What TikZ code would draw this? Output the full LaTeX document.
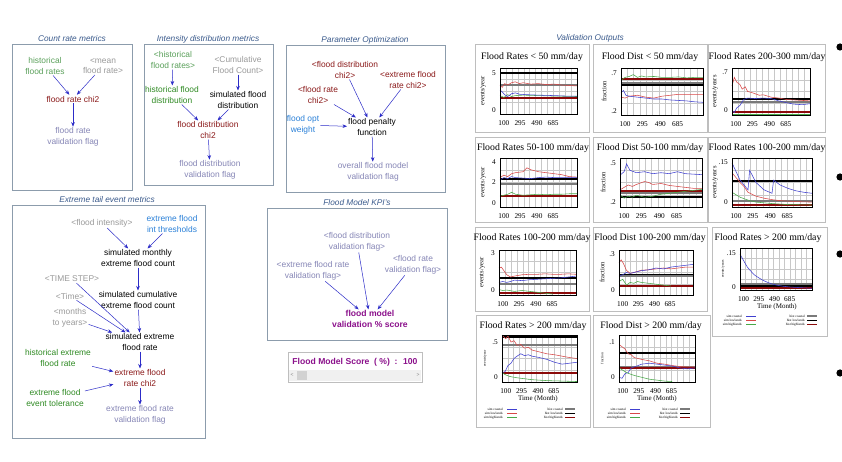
\documentclass[tikz,border=0pt]{standalone}
\usepackage{fontspec}
\setmainfont{Liberation Sans}
\newfontfamily\chartfont{Liberation Serif}
\usetikzlibrary{arrows.meta}
\definecolor{framecol}{HTML}{8C9CAC}
\definecolor{titlecol}{HTML}{3A5A8C}
\definecolor{histgreen}{HTML}{2E8A22}
\definecolor{lightgreen}{HTML}{5AA05A}
\definecolor{shadowgray}{HTML}{9A9A9A}
\definecolor{chired}{HTML}{8B1A1A}
\definecolor{flagblue}{HTML}{8686B6}
\definecolor{constblue}{HTML}{2A80D8}
\definecolor{scorepurple}{HTML}{8B108B}
\definecolor{linkblue}{HTML}{2C2CC8}
\definecolor{simblue}{HTML}{4040D0}
\definecolor{simred}{HTML}{D84848}
\definecolor{simgreen}{HTML}{48A848}
\definecolor{histgray}{HTML}{7A7A7A}
\definecolor{histred}{HTML}{8B0A0A}
\definecolor{gridcol}{HTML}{C8C8C8}
\definecolor{panelcol}{HTML}{BEBEBE}
\tikzset{grp/.style = {draw=framecol, line width=.6pt},
         grptitle/.style = {text=titlecol, font=\fontsize{8.3}{10}\selectfont\itshape, inner sep=1pt},
         var/.style = {align=center, inner sep=1pt, font=\fontsize{8.4}{10.5}\selectfont},
         aux/.style = {var, text=black},
         ghost/.style = {var, text=shadowgray},
         histv/.style = {var, text=histgreen},
         histl/.style = {var, text=lightgreen},
         chi/.style = {var, text=chired},
         flag/.style = {var, text=flagblue},
         cst/.style = {var, text=constblue},
         score/.style = {var, text=scorepurple, font=\fontsize{8.6}{10.5}\selectfont\bfseries},
         lk/.style = {->, draw=linkblue, line width=.5pt},
         chartbox/.style = {draw=panelcol, line width=.7pt},
         ctitle/.style = {font=\chartfont\fontsize{9.8}{11}\selectfont, inner sep=0pt},
         tick/.style = {font=\chartfont\fontsize{7.3}{8}\selectfont, inner sep=1pt},
         ylab/.style = {font=\chartfont\fontsize{6.5}{7}\selectfont, inner sep=0pt, rotate=90},
         ylabtiny/.style = {font=\chartfont\fontsize{3.6}{4}\selectfont, inner sep=0pt, rotate=90},
         xlab/.style = {font=\chartfont\fontsize{7}{8}\selectfont, inner sep=0pt},
         gridln/.style = {draw=gridcol, line width=.4pt},
         plotrim/.style = {draw=black, line width=.7pt},
         simco/.style = {draw=simblue, line width=.55pt},
         simlo/.style = {draw=simred, line width=.55pt},
         simhi/.style = {draw=simgreen, line width=.55pt},
         histco/.style = {draw=histgray, line width=2pt},
         histlo/.style = {draw=black, line width=2pt},
         histhi/.style = {draw=histred, line width=2pt},
         legtxt/.style = {font=\chartfont\fontsize{3.4}{4}\selectfont, inner sep=0pt, anchor=east}}

% plot area in unit coordinates
\newcommand\plotgrid{%
  \fill[white] (0,0) rectangle (1,1);
  \foreach \k in {1,...,12} \draw[gridln] (\k/13,0) -- (\k/13,1);
  \foreach \k in {1,2,3} \draw[gridln] (0,\k/4) -- (1,\k/4);}
% id, top label, top value, bottom label, bottom value, y label, y label style
\newcommand\chartaxes[7]{%
  \draw[plotrim] (0,0) rectangle (1,1);
  \foreach \t/\u [count=\i] in {100/.05,295/.26,490/.48,685/.69}
    \node[tick, anchor=north, yshift=-5pt] (#1x\i) at (\u,0) {\t};
  \node[tick, anchor=east, xshift=-3pt] (#1ya) at (0,#3) {#2};
  \node[tick, anchor=east, xshift=-3pt] (#1yb) at (0,#5) {#4};
  \node[xshift=-17pt, #7] (#1yl) at (0,.5) {#6};}
% id, left text east, right text east, first row
\newcommand\chartlegend[4]{%
  \node[legtxt] (#1sl1) at (#2,#4) {sim coastal};
  \node[legtxt] (#1sl2) at (#2,#4+4.2) {sim lowlands};
  \node[legtxt] (#1sl3) at (#2,#4+8.4) {sim highlands};
  \draw[simco] (#2+4,#4) -- (#2+14,#4);
  \draw[simlo] (#2+4,#4+4.2) -- (#2+14,#4+4.2);
  \draw[simhi] (#2+4,#4+8.4) -- (#2+14,#4+8.4);
  \node[legtxt] (#1hl1) at (#3,#4) {hist coastal};
  \node[legtxt] (#1hl2) at (#3,#4+4.2) {hist lowlands};
  \node[legtxt] (#1hl3) at (#3,#4+8.4) {hist highlands};
  \draw[histco, line width=1.3pt] (#3+2,#4) -- (#3+12,#4);
  \draw[histlo, line width=1.3pt] (#3+2,#4+4.2) -- (#3+12,#4+4.2);
  \draw[histhi, line width=1.3pt] (#3+2,#4+8.4) -- (#3+12,#4+8.4);}

\begin{document}
\begin{tikzpicture}[x=1pt, y=-1pt, >={Stealth[length=4.5pt, width=3.6pt]}]
  \path[fill=white] (0,0) rectangle (842,462);
  \useasboundingbox (0,0) rectangle (842,462);

  % Count rate metrics
  \node[grptitle] (tcr) at (72,39) {Count rate metrics};
  \draw[grp] (12,44) rectangle (132,190);
  \node[histl] (hfr) at (45,66) {historical\\flood rates};
  \node[ghost] (mfr) at (103,66) {<mean\\flood rate>};
  \node[chi]   (frc) at (73,99) {flood rate chi2};
  \node[flag]  (frf) at (73,137) {flood rate\\validation flag};
  \draw[lk] (hfr) -- (frc);
  \draw[lk] (mfr) -- (frc);
  \draw[lk] (frc) -- (frf);

  % Intensity distribution metrics
  \node[grptitle] (tid) at (208,39) {Intensity distribution metrics};
  \draw[grp] (144,44) rectangle (273,185);
  \node[histl] (hfr2) at (173,60) {<historical\\flood rates>};
  \node[ghost] (cfc) at (238,65) {<Cumulative\\Flood Count>};
  \node[histv] (hfd) at (172,95) {historical flood\\distribution};
  \node[aux]   (sfd) at (238,100) {simulated flood\\distribution};
  \node[chi]   (fdc) at (208,130) {flood distribution\\chi2};
  \node[flag]  (fdf) at (210,170) {flood distribution\\validation flag};
  \draw[lk] (hfr2) -- (hfd);
  \draw[lk] (cfc) -- (sfd);
  \draw[lk] (hfd) -- (fdc);
  \draw[lk] (sfd) -- (fdc);
  \draw[lk] (fdc) -- (fdf);

  % Parameter Optimization
  \node[grptitle] (tpo) at (365,40) {Parameter Optimization};
  \draw[grp] (286,45) rectangle (445,192);
  \node[chi]  (pdc) at (345,70) {<flood distribution\\chi2>};
  \node[chi]  (pec) at (408,80) {<extreme flood\\rate chi2>};
  \node[chi]  (prc) at (318,95) {<flood rate\\chi2>};
  \node[cst]  (fow) at (303,125) {flood opt\\weight};
  \node[aux]  (fpf) at (372,127) {flood penalty\\function};
  \node[flag] (ofv) at (373,172) {overall flood model\\validation flag};
  \draw[lk] (pdc) -- (fpf);
  \draw[lk] (pec) -- (fpf);
  \draw[lk] (prc) -- (fpf);
  \draw[lk] (fow) -- (fpf);
  \draw[lk] (fpf) -- (ofv);

  % Extreme tail event metrics
  \node[grptitle] (tet) at (107,200) {Extreme tail event metrics};
  \draw[grp] (12,205) rectangle (205,438);
  \node[ghost] (fin) at (102,223) {<flood intensity>};
  \node[cst]   (eft) at (172,224) {extreme flood\\int thresholds};
  \node[aux]   (smc) at (138,258) {simulated monthly\\extreme flood count};
  \node[ghost] (tst) at (72,279) {<TIME STEP>};
  \node[ghost] (tim) at (70,296) {<Time>};
  \node[ghost] (mty) at (70,318) {<months\\to years>};
  \node[aux]   (scc) at (138,300) {simulated cumulative\\extreme flood count};
  \node[aux]   (ser) at (140,342) {simulated extreme\\flood rate};
  \node[histv] (her) at (58,358) {historical extreme\\flood rate};
  \node[chi]   (erc) at (140,378) {extreme flood\\rate chi2};
  \node[histv] (eet) at (55,398) {extreme flood\\event tolerance};
  \node[flag]  (erf) at (140,415) {extreme flood rate\\validation flag};
  \draw[lk] (fin) -- (smc);
  \draw[lk] (eft) -- (smc);
  \draw[lk] (smc) -- (scc);
  \draw[lk] (scc) -- (ser);
  \draw[lk] (tst) -- (ser);
  \draw[lk] (tim) -- (ser);
  \draw[lk] (mty) -- (ser);
  \draw[lk] (ser) -- (erc);
  \draw[lk] (her) -- (erc);
  \draw[lk] (eet) -- (erc);
  \draw[lk] (erc) -- (erf);

  % Flood Model KPI's
  \node[grptitle] (tkp) at (357,203) {Flood Model KPI's};
  \draw[grp] (267,208) rectangle (447,340);
  \node[flag]  (kdf) at (357,242) {<flood distribution\\validation flag>};
  \node[flag]  (kef) at (313,271) {<extreme flood rate\\validation flag>};
  \node[flag]  (krf) at (413,265) {<flood rate\\validation flag>};
  \node[score] (vsc) at (370,319) {flood model\\validation \% score};
  \draw[lk] (kdf) -- (vsc);
  \draw[lk] (kef) -- (vsc);
  \draw[lk] (krf) -- (vsc);

  % score readout
  \draw[draw=panelcol, line width=.6pt] (288,352) rectangle (422,382);
  \node[score, font=\fontsize{8.6}{10}\selectfont\bfseries] (fms) at (355,362) {Flood Model Score~ (~\%)~ :~ 100};
  \fill[gray!12] (289,370) rectangle (421,381);
  \fill[gray!35] (297,371) rectangle (307,380);
  \node[font=\fontsize{5}{6}\selectfont, text=gray] (sbl) at (292,375.5) {<};
  \node[font=\fontsize{5}{6}\selectfont, text=gray] (sbr) at (418,375.5) {>};

  % Validation Outputs
  \node[grptitle] (tvo) at (590,38) {Validation Outputs};

  % Flood Rates < 50 mm/day
  \draw[chartbox] (475,44) rectangle (589,132);
  \node[ctitle] (c1t) at (532,57) {Flood Rates < 50 mm/day};
  \begin{scope}[shift={(500,114)}, x=77pt, y=46pt]
    \plotgrid
    \draw[histlo] (0,.89) -- (1,.89);
    \draw[histco] (0,.62) -- (1,.62);
    \draw[histhi] (0,.34) -- (1,.34);
    \draw[simlo] plot coordinates {(0,.62) (.03,.58) (.06,.66) (.1,.63) (.15,.68) (.2,.7) (.25,.66) (.3,.68) (.4,.65) (.5,.66) (.6,.64) (.7,.65) (.8,.63) (.9,.62) (1,.61)};
    \draw[simhi] plot coordinates {(0,.40) (.05,.36) (.1,.42) (.15,.38) (.2,.40) (.3,.41) (.5,.40) (.7,.39) (1,.38)};
    \draw[simco] plot coordinates {(0,.52) (.03,.48) (.06,.42) (.1,.38) (.15,.44) (.2,.46) (.25,.43) (.35,.42) (.5,.41) (.7,.40) (.85,.39) (1,.39)};
    \chartaxes{c1}{5}{.89}{0}{.09}{events/year}{ylab}
  \end{scope}

  % Flood Dist < 50 mm/day
  \draw[chartbox] (593,44) rectangle (707,132);
  \node[ctitle] (c2t) at (650,57) {Flood Dist < 50 mm/day};
  \begin{scope}[shift={(621,115)}, x=82pt, y=47pt]
    \plotgrid
    \draw[histco] (0,.68) -- (1,.68);
    \draw[histlo] (0,.63) -- (1,.63);
    \draw[histhi] (0,.77) -- (1,.77);
    \draw[simhi] plot coordinates {(0,.74) (.05,.8) (.1,.82) (.15,.86) (.2,.8) (.25,.83) (.3,.81) (.4,.82) (.5,.8) (.6,.8) (.7,.81) (.8,.79) (.9,.8) (1,.8)};
    \draw[simlo] plot coordinates {(0,.38) (.05,.36) (.1,.40) (.2,.42) (.3,.38) (.4,.36) (.5,.40) (.6,.42) (.7,.44) (.8,.44) (.9,.44) (1,.44)};
    \draw[simco] plot coordinates {(0,.48) (.03,.52) (.06,.42) (.1,.40) (.2,.38) (.3,.36) (.4,.34) (.5,.34) (.6,.32) (.7,.31) (.8,.3) (.9,.28) (1,.27)};
    \chartaxes{c2}{.7}{.89}{.2}{.09}{fraction}{ylab}
  \end{scope}

  % Flood Rates 200-300 mm/day
  \draw[chartbox] (708,44) rectangle (825,132);
  \node[ctitle] (c3t) at (767,57) {Flood Rates 200-300 mm/day};
  \begin{scope}[shift={(732,115)}, x=78pt, y=47pt]
    \plotgrid
    \draw[histlo] (0,.34) -- (1,.34);
    \draw[histco] (0,.28) -- (1,.28);
    \draw[histhi] (0,.06) -- (1,.06);
    \draw[simhi] (0,.02) -- (1,.02);
    \draw[simlo] plot coordinates {(0,.62) (.03,.8) (.06,.7) (.1,.65) (.13,.55) (.17,.6) (.2,.5) (.25,.48) (.3,.45) (.35,.42) (.4,.43) (.5,.38) (.6,.36) (.7,.33) (.8,.32) (.9,.31) (1,.3)};
    \draw[simco] plot coordinates {(0,.1) (.03,.05) (.06,.15) (.1,.2) (.15,.33) (.2,.36) (.3,.35) (.4,.36) (.5,.35) (.6,.3) (.7,.26) (.8,.23) (.9,.22) (1,.24)};
    \chartaxes{c3}{.7}{.91}{0}{.11}{events/years}{ylab}
  \end{scope}

  % Flood Rates 50-100 mm/day
  \draw[chartbox] (475,137) rectangle (589,222);
  \node[ctitle] (c4t) at (533,148) {Flood Rates 50-100 mm/day};
  \begin{scope}[shift={(500,207)}, x=77pt, y=49pt]
    \plotgrid
    \draw[histlo] (0,.57) -- (1,.57);
    \draw[histco] (0,.47) -- (1,.47);
    \draw[histhi] (0,.22) -- (1,.22);
    \draw[simlo] plot coordinates {(0,.6) (.05,.65) (.1,.62) (.15,.68) (.2,.7) (.3,.72) (.35,.8) (.4,.76) (.5,.72) (.6,.7) (.7,.68) (.8,.66) (.9,.62) (1,.61)};
    \draw[simco] plot coordinates {(0,.55) (.05,.6) (.1,.58) (.15,.62) (.2,.6) (.3,.59) (.4,.58) (.5,.6) (.6,.61) (.7,.6) (.8,.6) (.9,.6) (1,.6)};
    \draw[simhi] plot coordinates {(0,.22) (.05,.24) (.1,.26) (.15,.3) (.2,.26) (.3,.24) (.4,.25) (.5,.26) (.6,.25) (.7,.26) (.8,.26) (.9,.27) (1,.27)};
    \chartaxes{c4}{4}{.92}{0}{.08}{events/year}{ylab}
    \node[tick, anchor=east, xshift=-3pt] (c4ym) at (0,.51) {2};
  \end{scope}

  % Flood Dist 50-100 mm/day
  \draw[chartbox] (593,137) rectangle (707,222);
  \node[ctitle] (c5t) at (650,148) {Flood Dist 50-100 mm/day};
  \begin{scope}[shift={(620,207)}, x=82pt, y=49pt]
    \plotgrid
    \draw[histhi] (0,.33) -- (1,.33);
    \draw[histco] (0,.28) -- (1,.28);
    \draw[histlo] (0,.2) -- (1,.2);
    \draw[simco] plot coordinates {(0,.65) (.05,.72) (.08,.88) (.12,.75) (.2,.7) (.3,.72) (.4,.68) (.5,.7) (.6,.68) (.7,.72) (.8,.68) (.9,.67) (1,.66)};
    \draw[simlo] plot coordinates {(0,.35) (.05,.4) (.1,.45) (.15,.42) (.2,.46) (.3,.52) (.35,.5) (.4,.46) (.5,.48) (.6,.44) (.7,.42) (.8,.4) (.9,.38) (1,.38)};
    \draw[simhi] plot coordinates {(0,.25) (.05,.18) (.1,.22) (.15,.2) (.2,.24) (.3,.2) (.4,.22) (.5,.26) (.6,.28) (.7,.3) (.8,.32) (.9,.34) (1,.36)};
    \chartaxes{c5}{.5}{.9}{.2}{.1}{fraction}{ylab}
  \end{scope}

  % Flood Rates 100-200 mm/day (third column)
  \draw[chartbox] (708,137) rectangle (825,222);
  \node[ctitle] (c6t) at (767,148) {Flood Rates 100-200 mm/day};
  \begin{scope}[shift={(732,207)}, x=80pt, y=49pt]
    \plotgrid
    \draw[histlo] (0,.53) -- (1,.53);
    \draw[histco] (0,.12) -- (1,.12);
    \draw[histhi] (0,.05) -- (1,.05);
    \draw[simlo] plot coordinates {(0,.7) (.05,.6) (.1,.5) (.15,.42) (.2,.3) (.3,.22) (.4,.18) (.5,.15) (.6,.13) (.7,.12) (.8,.11) (1,.1)};
    \draw[simco] plot coordinates {(0,.9) (.1,.55) (.2,.35) (.22,.75) (.3,.5) (.4,.35) (.5,.28) (.52,.55) (.6,.45) (.7,.38) (.8,.33) (.9,.3) (1,.28)};
    \draw[simhi] plot coordinates {(0,.3) (.1,.2) (.2,.14) (.3,.1) (.5,.07) (.7,.05) (1,.04)};
    \chartaxes{c6}{.15}{.92}{0}{.1}{events/years}{ylab}
  \end{scope}

  % Flood Rates 100-200 mm/day
  \draw[chartbox] (475,227) rectangle (589,311);
  \node[ctitle] (c7t) at (532,238) {Flood Rates 100-200 mm/day};
  \begin{scope}[shift={(499,295)}, x=77pt, y=45pt]
    \plotgrid
    \draw[histlo] (0,.38) -- (1,.38);
    \draw[histco] (0,.25) -- (1,.25);
    \draw[histhi] (0,.05) -- (1,.05);
    \draw[simlo] plot coordinates {(0,.6) (.03,.62) (.06,.55) (.1,.45) (.15,.4) (.2,.42) (.3,.45) (.4,.46) (.5,.46) (.6,.47) (.7,.46) (.8,.46) (.9,.47) (1,.46)};
    \draw[simco] plot coordinates {(0,.28) (.05,.3) (.1,.28) (.15,.3) (.2,.33) (.3,.32) (.4,.34) (.5,.35) (.6,.36) (.7,.37) (.8,.38) (.9,.4) (1,.42)};
    \draw[simhi] plot coordinates {(0,.12) (.05,.1) (.1,.11) (.2,.08) (.3,.1) (.4,.08) (.5,.06) (.6,.04) (.7,.02)};
    \chartaxes{c7}{3}{.93}{0}{.11}{events/year}{ylab}
  \end{scope}

  % Flood Dist 100-200 mm/day
  \draw[chartbox] (593,227) rectangle (707,311);
  \node[ctitle] (c8t) at (650,238) {Flood Dist 100-200 mm/day};
  \begin{scope}[shift={(619,295)}, x=74pt, y=45pt]
    \plotgrid
    \draw[histco] (0,.42) -- (1,.42);
    \draw[histlo, line width=.8pt] (0,.46) -- (1,.46);
    \draw[histhi] (0,.2) -- (1,.2);
    \draw[simlo] plot coordinates {(0,.72) (.03,.78) (.06,.7) (.1,.55) (.15,.48) (.2,.5) (.3,.55) (.4,.56) (.5,.58) (.6,.6) (.7,.58) (.8,.6) (.9,.62) (1,.62)};
    \draw[simco] plot coordinates {(0,.42) (.05,.45) (.1,.5) (.15,.48) (.2,.5) (.3,.54) (.4,.56) (.5,.6) (.6,.58) (.7,.62) (.8,.64) (.9,.66) (1,.68)};
    \draw[simhi] plot coordinates {(0,.3) (.05,.35) (.1,.22) (.15,.28) (.2,.26) (.25,.3) (.3,.28) (.4,.26) (.5,.24) (.6,.22) (.7,.2)};
    \chartaxes{c8}{.3}{.91}{0}{.11}{fraction}{ylab}
  \end{scope}

  % Flood Rates > 200 mm/day (with legend)
  \draw[chartbox] (712,227) rectangle (827,336);
  \node[ctitle] (c9t) at (768,238) {Flood Rates > 200 mm/day};
  \begin{scope}[shift={(740,290)}, x=72pt, y=42pt]
    \plotgrid
    \draw[histco] (0,.15) -- (1,.15);
    \draw[histlo] (0,.1) -- (1,.1);
    \draw[histhi] (0,.05) -- (1,.05);
    \draw[simco] plot[smooth] coordinates {(0,.85) (.05,.7) (.1,.55) (.15,.45) (.2,.36) (.3,.25) (.4,.17) (.5,.12) (.6,.09) (.7,.07) (.8,.06) (.9,.05) (1,.04)};
    \chartaxes{c9}{.15}{.88}{0}{.07}{events/years}{ylabtiny}
  \end{scope}
  \node[xlab] (c9m) at (777,307) {Time (Month)};
  \chartlegend{c9}{742}{805}{316}

  % Flood Rates > 200 mm/day
  \draw[chartbox] (476,315) rectangle (590,427);
  \node[ctitle] (c10t) at (533,326) {Flood Rates > 200 mm/day};
  \begin{scope}[shift={(502,382)}, x=75pt, y=47pt]
    \plotgrid
    \draw[histlo] (0,.96) -- (1,.96);
    \draw[histco] (0,.79) -- (1,.79);
    \draw[histhi] (0,.19) -- (1,.19);
    \draw[simlo] plot coordinates {(0,1) (.05,.92) (.08,.98) (.12,.85) (.16,.88) (.2,.78) (.25,.8) (.3,.72) (.35,.74) (.4,.68) (.5,.64) (.6,.6) (.7,.58) (.8,.55) (.9,.52) (1,.5)};
    \draw[simco] plot coordinates {(0,.2) (.04,.22) (.08,.35) (.12,.4) (.16,.5) (.2,.55) (.25,.6) (.3,.56) (.35,.58) (.4,.55) (.5,.52) (.6,.48) (.7,.42) (.8,.38) (.9,.4) (1,.42)};
    \draw[simhi] plot[smooth] coordinates {(0,.2) (.05,.15) (.1,.12) (.2,.09) (.3,.07) (.4,.05) (.6,.03) (.8,.02) (1,.01)};
    \chartaxes{c10}{.5}{.85}{0}{.11}{events/year}{ylabtiny}
  \end{scope}
  \node[xlab] (c10m) at (538,399) {Time (Month)};
  \chartlegend{c10}{503}{563}{409}

  % Flood Dist > 200 mm/day
  \draw[chartbox] (593,315) rectangle (710,427);
  \node[ctitle] (c11t) at (651,326) {Flood Dist > 200 mm/day};
  \begin{scope}[shift={(619,382)}, x=76pt, y=47pt]
    \plotgrid
    \draw[histlo] (0,.62) -- (1,.62);
    \draw[histco] (0,.32) -- (1,.32);
    \draw[histhi] (0,.29) -- (1,.29);
    \draw[simlo] plot coordinates {(0,.8) (.04,.75) (.08,.7) (.12,.6) (.16,.58) (.2,.52) (.3,.48) (.4,.45) (.5,.4) (.6,.38) (.7,.35) (.8,.33) (.9,.32) (1,.32)};
    \draw[simco] plot coordinates {(0,.1) (.04,.08) (.08,.18) (.12,.2) (.16,.3) (.2,.32) (.3,.38) (.4,.4) (.5,.38) (.6,.36) (.7,.34) (.8,.3) (.9,.28) (1,.3)};
    \draw[simhi] plot[smooth] coordinates {(0,.3) (.05,.25) (.1,.2) (.2,.14) (.3,.1) (.4,.06) (.5,.04) (.6,.02) (.7,.01)};
    \chartaxes{c11}{.1}{.85}{0}{.11}{fraction}{ylabtiny}
  \end{scope}
  \node[xlab] (c11m) at (657,399) {Time (Month)};
  \chartlegend{c11}{626}{678}{409}

  % bullets at the right edge
  \foreach \yb in {47,177,254,373} \fill (840,\yb) circle (3.6pt);
\end{tikzpicture}
\end{document}
